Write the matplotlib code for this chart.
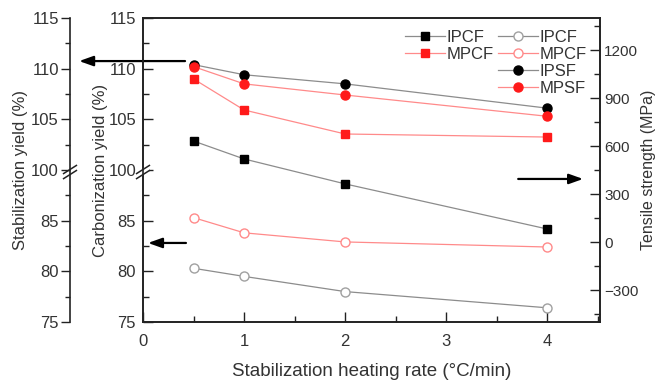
import matplotlib
matplotlib.use("Agg")
import matplotlib.pyplot as plt
import matplotlib.transforms as mtransforms
from matplotlib.ticker import FixedLocator, MultipleLocator

plt.rcParams['font.family'] = ['Liberation Sans', 'DejaVu Sans']

TEXT = '#333333'
GREY = '#8c8c8c'
PINK = '#ff8a8a'
RED = '#ff1a1a'

heating_rate = [0.5, 1, 2, 4]

# tensile strength (MPa)
ipcf_strength = [631, 519, 363, 81]
mpcf_strength = [1019, 825, 675, 656]
# carbonization yield (%)
ipcf_carb_yield = [80.3, 79.5, 78.0, 76.4]
mpcf_carb_yield = [85.3, 83.8, 82.9, 82.4]
# stabilization yield (%)
ipsf_yield = [110.4, 109.4, 108.5, 106.1]
mpsf_yield = [110.2, 108.5, 107.4, 105.3]

yield_ticks = [75, 80, 85, 100, 105, 110, 115]
strength_ticks = [-300, 0, 300, 600, 900, 1200]
BREAK = 100   # the yield axes skip 85..95 and continue at 100
SHIFT = 10


def broken(values):
    return [v + SHIFT if v < BREAK else v for v in values]


fig = plt.figure(figsize=(6.57, 3.83), dpi=100)
ax = fig.add_axes([143 / 657, 61 / 383, 457 / 657, 304 / 383])
stab_ax = ax.twinx()
str_ax = ax.twinx()

OUTER = -73 / 457  # outer left spine, in axes fraction

# carbonization yield axis (inner left)
ax.set_xlim(0, 4.52)
ax.set_ylim(85, 115)
ax.yaxis.set_major_locator(FixedLocator(broken(yield_ticks)))
ax.set_yticklabels([str(t) for t in yield_ticks])
ax.yaxis.set_minor_locator(FixedLocator([87.5, 92.5, 97.5, 102.5, 107.5, 112.5]))
ax.xaxis.set_major_locator(MultipleLocator(1))
ax.xaxis.set_minor_locator(MultipleLocator(0.5))
ax.tick_params(which='both', direction='in', width=1, colors='#222222',
               labelcolor=TEXT, labelsize=12, top=False, right=False)
ax.tick_params(which='major', length=7)
ax.tick_params(which='minor', length=4)
ax.tick_params(axis='x', pad=9)
ax.tick_params(axis='y', pad=5)
ax.set_xlabel('Stabilization heating rate (°C/min)', fontsize=13.5, color=TEXT, labelpad=10)
ax.set_ylabel('Carbonization yield (%)', fontsize=12, color=TEXT, labelpad=0)

# stabilization yield axis (outer left)
stab_ax.set_ylim(85, 115)
stab_ax.yaxis.tick_left()
stab_ax.yaxis.set_label_position('left')
for side in ('right', 'top', 'bottom'):
    stab_ax.spines[side].set_visible(False)
stab_ax.spines['left'].set_position(('axes', OUTER))
stab_ax.yaxis.set_major_locator(FixedLocator(broken(yield_ticks)))
stab_ax.set_yticklabels([str(t) for t in yield_ticks])
stab_ax.yaxis.set_minor_locator(FixedLocator([87.5, 92.5, 97.5, 102.5, 107.5, 112.5]))
stab_ax.tick_params(which='both', direction='out', width=1, colors='#222222',
                    labelcolor=TEXT, labelsize=12, pad=1.5)
stab_ax.tick_params(which='major', length=6.5)
stab_ax.tick_params(which='minor', length=3.5)
stab_ax.set_ylabel('Stabilization yield (%)', fontsize=12, color=TEXT, labelpad=2)

# tensile strength axis (right)
str_ax.set_ylim(-500, 1400)
str_ax.yaxis.set_major_locator(FixedLocator(strength_ticks))
str_ax.yaxis.set_minor_locator(MultipleLocator(150))
str_ax.tick_params(which='both', direction='in', width=1, colors='#222222',
                   labelcolor=TEXT, labelsize=11, pad=3)
str_ax.tick_params(which='major', length=7)
str_ax.tick_params(which='minor', length=4)
str_ax.set_ylabel('Tensile strength (MPa)', fontsize=11.5, color=TEXT, labelpad=1.5)

for a in (ax, stab_ax, str_ax):
    for sp in a.spines.values():
        sp.set_linewidth(1.2)
        sp.set_color('#222222')

# series
h_ipcf_s, = str_ax.plot(heating_rate, ipcf_strength, '-s', color=GREY, lw=0.9,
                        mfc='black', mec='black', ms=6, label='IPCF')
h_mpcf_s, = str_ax.plot(heating_rate, mpcf_strength, '-s', color=PINK, lw=0.9,
                        mfc=RED, mec=RED, ms=6, label='MPCF')
h_ipcf_c, = ax.plot(heating_rate, broken(ipcf_carb_yield), '-o', color=GREY, lw=0.9,
                    mfc='white', mec='#a0a0a0', ms=6.5, label='IPCF')
h_mpcf_c, = ax.plot(heating_rate, broken(mpcf_carb_yield), '-o', color=PINK, lw=0.9,
                    mfc='white', mec=PINK, ms=6.5, label='MPCF')
h_ipsf, = stab_ax.plot(heating_rate, ipsf_yield, '-o', color=GREY, lw=0.9,
                       mfc='black', mec='black', ms=6.5, label='IPSF')
h_mpsf, = stab_ax.plot(heating_rate, mpsf_yield, '-o', color=PINK, lw=0.9,
                       mfc=RED, mec=RED, ms=6.5, label='MPSF')

# axis breaks on both left spines
blend = mtransforms.blended_transform_factory(ax.transAxes, ax.transData)
for xs in (0, OUTER):
    ax.fill([xs - 0.012, xs + 0.012, xs + 0.012, xs - 0.012],
            [99.2, 99.9, 100.4, 99.7], color='white', transform=blend,
            clip_on=False, zorder=5)
    for y0 in (99.2, 99.7):
        ax.plot([xs - 0.014, xs + 0.014], [y0 - 0.05, y0 + 0.75], color='#222222',
                lw=1.1, transform=blend, clip_on=False, zorder=6)

# arrows pointing each group of curves to its axis
arrow = dict(arrowstyle='-|>,head_length=0.7,head_width=0.25', color='black',
             lw=1.6, mutation_scale=12, shrinkA=0, shrinkB=0)
ax.annotate('', xy=(OUTER + 0.02, 110.75), xytext=(0.092, 110.75),
            xycoords=('axes fraction', 'data'), arrowprops=arrow, annotation_clip=False)
ax.annotate('', xy=(0.011, 92.8), xytext=(0.094, 92.8),
            xycoords=('axes fraction', 'data'), arrowprops=arrow, annotation_clip=False)
str_ax.annotate('', xy=(0.963, 394), xytext=(0.821, 394),
                xycoords=('axes fraction', 'data'), arrowprops=arrow, annotation_clip=False)

leg_kw = dict(frameon=False, fontsize=12, handlelength=2.4, handletextpad=0.1,
              labelspacing=0.12, borderpad=0, borderaxespad=0, loc='upper left')
leg1 = str_ax.legend(handles=[h_ipcf_s, h_mpcf_s], bbox_to_anchor=(0.573, 0.96), **leg_kw)
for t in leg1.get_texts():
    t.set_color(TEXT)
str_ax.add_artist(leg1)
leg2 = str_ax.legend(handles=[h_ipcf_c, h_mpcf_c, h_ipsf, h_mpsf],
                     bbox_to_anchor=(0.777, 0.96), **leg_kw)
for t in leg2.get_texts():
    t.set_color(TEXT)

fig.savefig('out.png', dpi=100)
